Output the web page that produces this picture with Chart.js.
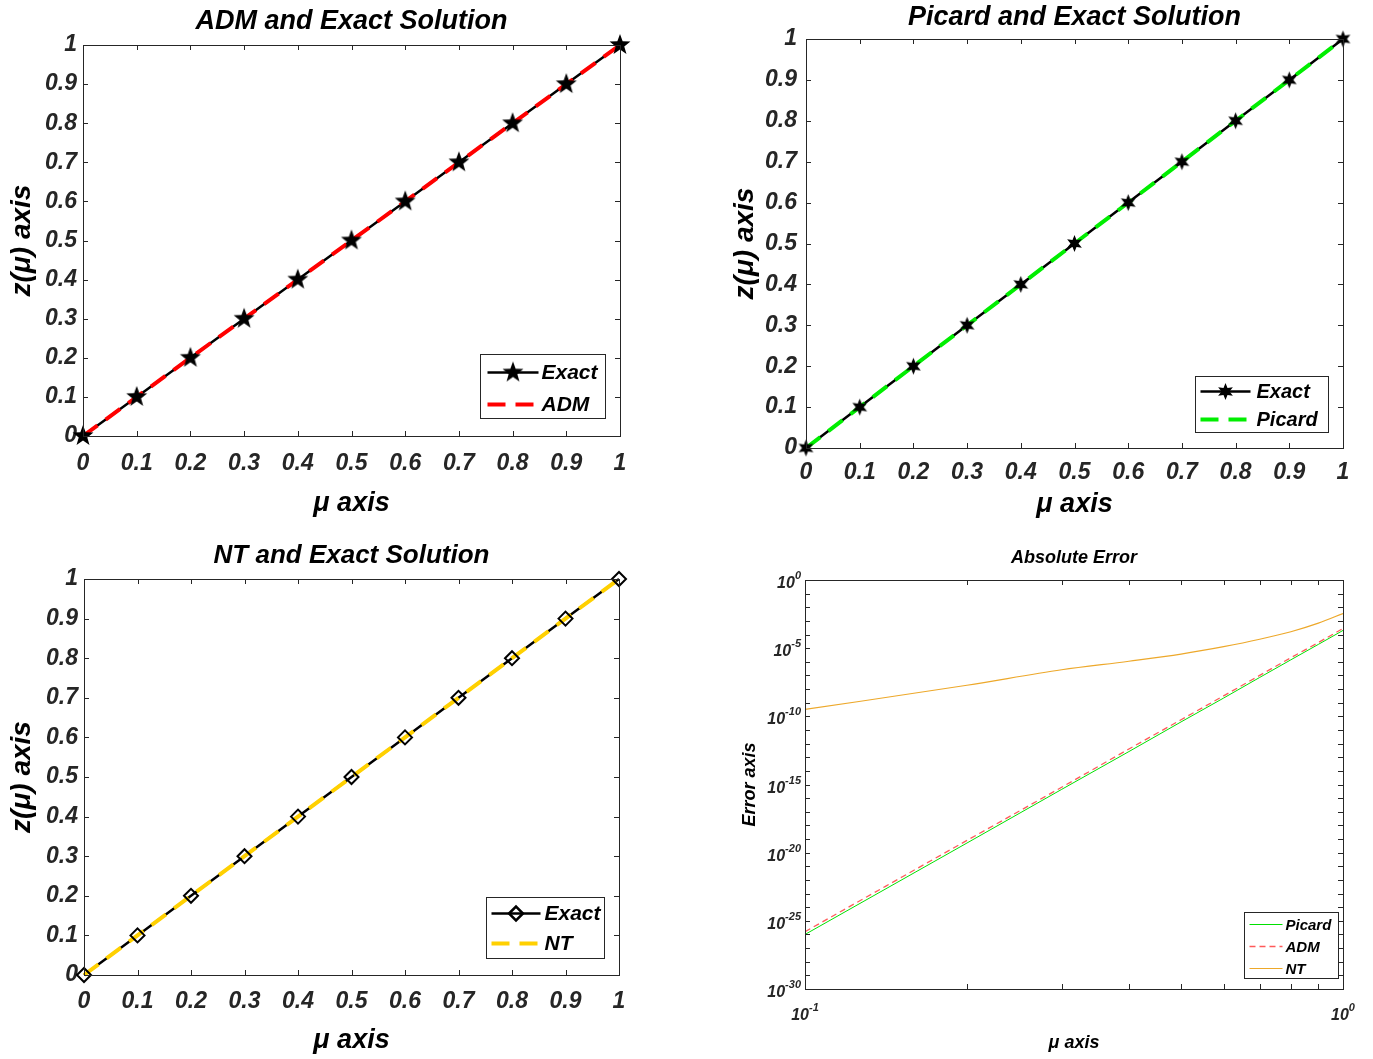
<!DOCTYPE html>
<html>
<head>
<meta charset="utf-8">
<script src="https://cdn.jsdelivr.net/npm/chart.js@4.4.1/dist/chart.umd.min.js"></script>
<style>
html, body { margin: 0; padding: 0; background: #fff; }
#wrap { position: relative; width: 1373px; height: 1059px; overflow: hidden; }
.panel { position: absolute; }
</style>
</head>
<body>
<div id="wrap">
  <div class="panel" style="left:0;top:0;width:686px;height:530px"><canvas id="admChart"></canvas></div>
  <div class="panel" style="left:700px;top:0;width:673px;height:530px"><canvas id="picardChart"></canvas></div>
  <div class="panel" style="left:0;top:532px;width:686px;height:527px"><canvas id="ntChart"></canvas></div>
  <div class="panel" style="left:700px;top:532px;width:673px;height:527px"><canvas id="errChart"></canvas></div>
</div>
<script>
// solution curves (mu from 0 to 1)
const muValues = [0, 0.1, 0.2, 0.3, 0.4, 0.5, 0.6, 0.7, 0.8, 0.9, 1];
const exactValues = [0, 0.1, 0.2, 0.3, 0.4, 0.5, 0.6, 0.7, 0.8, 0.9, 1];
const admValues = [0, 0.1, 0.2, 0.3, 0.4, 0.5, 0.6, 0.7, 0.8, 0.9, 1];
const picardValues = [0, 0.1, 0.2, 0.3, 0.4, 0.5, 0.6, 0.7, 0.8, 0.9, 1];
const ntValues = [0, 0.1, 0.2, 0.3, 0.4, 0.5, 0.6, 0.7, 0.8, 0.9, 1];
const linTicks = [0, 0.1, 0.2, 0.3, 0.4, 0.5, 0.6, 0.7, 0.8, 0.9, 1];
const linTickLabels = ['0', '0.1', '0.2', '0.3', '0.4', '0.5', '0.6', '0.7', '0.8', '0.9', '1'];

// absolute error (log-log)
const errMu = [0.1, 0.2, 0.3, 0.4, 0.5, 0.6, 0.7, 0.8, 0.9, 1.0];
const errPicard = [1.0e-26, 5.1e-20, 4.4e-16, 2.6e-13, 3.9e-11, 2.2e-9, 7.1e-8, 1.4e-6, 1.9e-5, 2.0e-4];
const errAdm = [1.6e-26, 7.9e-20, 6.3e-16, 4.0e-13, 5.6e-11, 3.2e-9, 1.0e-7, 2.0e-6, 2.6e-5, 2.8e-4];
const errNt = [3.2e-10, 1.9e-8, 2.6e-7, 1.1e-6, 3.7e-6, 1.3e-5, 4.5e-5, 1.6e-4, 6.8e-4, 3.5e-3];
const logXMajor = [0.1, 1];
const logXMajorExp = ['-1', '0'];
const logXMinor = [0.2, 0.3, 0.4, 0.5, 0.6, 0.7, 0.8, 0.9];
const logYMajor = [1, 1e-5, 1e-10, 1e-15, 1e-20, 1e-25, 1e-30];
const logYMajorExp = ['0', '-5', '-10', '-15', '-20', '-25', '-30'];
const logYMinor = [1e-1, 1e-2, 1e-3, 1e-4, 1e-6, 1e-7, 1e-8, 1e-9, 1e-11, 1e-12, 1e-13, 1e-14,
  1e-16, 1e-17, 1e-18, 1e-19, 1e-21, 1e-22, 1e-23, 1e-24, 1e-26, 1e-27, 1e-28, 1e-29];

const FAMILY = '"Liberation Sans", Arial, Helvetica, sans-serif';
const AXIS_COLOR = '#262626';
const fontStr = (size) => `italic bold ${size}px ${FAMILY}`;
const fontObj = (size) => ({ family: FAMILY, size: size, weight: 'bold', style: 'italic' });

const toPoints = (xs, ys) => xs.map((x, i) => ({ x: x, y: ys[i] }));

function makeStar(n, rOut, rIn) {
    const c = document.createElement('canvas');
    const s = Math.ceil(rOut * 2 + 4);
    c.width = s; c.height = s;
    const g = c.getContext('2d');
    g.translate(s / 2, s / 2);
    g.beginPath();
    for (let i = 0; i < 2 * n; i++) {
        const r = i % 2 ? rIn : rOut;
        const a = -Math.PI / 2 + i * Math.PI / n;
        g.lineTo(r * Math.cos(a), r * Math.sin(a));
    }
    g.closePath();
    g.fillStyle = '#000';
    g.fill();
    return c;
}

// MATLAB-like box, inner ticks, title, legend, log labels
const matlabFrame = {
    id: 'matlabFrame',
    afterDatasetsDraw(chart, args, o) {
        const { ctx, chartArea: a, scales } = chart;
        const line = (x1, y1, x2, y2) => { ctx.beginPath(); ctx.moveTo(x1, y1); ctx.lineTo(x2, y2); ctx.stroke(); };
        ctx.save();
        ctx.setLineDash([]);
        ctx.strokeStyle = AXIS_COLOR;
        ctx.lineWidth = 1;
        ctx.strokeRect(Math.round(a.left) + 0.5, Math.round(a.top) + 0.5, Math.round(a.width), Math.round(a.height));

        const L = o.tickLen;
        o.xTicks.forEach(v => {
            const p = Math.round(scales.x.getPixelForValue(v)) + 0.5;
            line(p, a.bottom, p, a.bottom - L);
            line(p, a.top, p, a.top + L);
        });
        o.yTicks.forEach(v => {
            const p = Math.round(scales.y.getPixelForValue(v)) + 0.5;
            line(a.left, p, a.left + L, p);
            line(a.right, p, a.right - L, p);
        });

        // title
        ctx.fillStyle = '#000';
        ctx.font = fontStr(o.titleSize);
        ctx.textAlign = 'center';
        ctx.textBaseline = 'middle';
        ctx.fillText(o.title, (a.left + a.right) / 2, o.titleY);

        // power-of-ten labels
        if (o.logLabels) {
            const base = fontStr(16), sup = fontStr(11);
            ctx.fillStyle = AXIS_COLOR;
            ctx.textBaseline = 'alphabetic';
            o.logLabels.y.forEach((v, i) => {
                const p = scales.y.getPixelForValue(v);
                ctx.font = sup; const we = ctx.measureText(o.logLabels.yExp[i]).width;
                ctx.font = base; const wb = ctx.measureText('10').width;
                const right = a.left - 4;
                ctx.textAlign = 'left';
                ctx.fillText('10', right - we - wb, p + 8);
                ctx.font = sup;
                ctx.fillText(o.logLabels.yExp[i], right - we, p - 1);
            });
            o.logLabels.x.forEach((v, i) => {
                const p = scales.x.getPixelForValue(v);
                ctx.font = sup; const we = ctx.measureText(o.logLabels.xExp[i]).width;
                ctx.font = base; const wb = ctx.measureText('10').width;
                const left = p - (wb + we) / 2;
                const y0 = a.bottom + 31;
                ctx.textAlign = 'left';
                ctx.fillText('10', left, y0);
                ctx.font = sup;
                ctx.fillText(o.logLabels.xExp[i], left + wb, y0 - 9);
            });
        }

        // legend box
        const lg = o.legend;
        const bx = Math.round(a.right - lg.mr - lg.w) + 0.5, by = Math.round(a.bottom - lg.mb - lg.h) + 0.5;
        ctx.fillStyle = '#fff';
        ctx.fillRect(bx, by, lg.w, lg.h);
        ctx.strokeStyle = AXIS_COLOR;
        ctx.lineWidth = 1;
        ctx.strokeRect(bx, by, lg.w, lg.h);
        chart.data.datasets.filter(d => d.legendLabel).forEach((d, i) => {
            const y = by + lg.row0 + i * lg.rowGap;
            ctx.strokeStyle = d.borderColor;
            ctx.lineWidth = d.borderWidth;
            ctx.setLineDash(d.borderDash || []);
            line(bx + lg.x0, y, bx + lg.x0 + lg.len, y);
            ctx.setLineDash([]);
            if (d.legendMarker) {
                ctx.fillStyle = 'rgba(0,0,0,0)';
                ctx.strokeStyle = '#000';
                Chart.helpers.drawPoint(ctx, {
                    pointStyle: d.legendMarker.style, radius: d.legendMarker.radius,
                    borderWidth: d.legendMarker.borderWidth || 0, rotation: 0
                }, bx + lg.x0 + lg.len / 2, y);
            }
            ctx.fillStyle = '#000';
            ctx.font = fontStr(lg.size);
            ctx.textAlign = 'left';
            ctx.textBaseline = 'middle';
            ctx.fillText(d.legendLabel, bx + lg.textX, y + 1);
        });
        ctx.restore();
    }
};

function solutionChart(id, cfg) {
    const marker = { style: cfg.markerStyle, radius: cfg.markerRadius, borderWidth: cfg.markerBorder };
    return new Chart(document.getElementById(id), {
        type: 'line',
        data: {
            datasets: [
                {
                    legendLabel: 'Exact', legendMarker: marker,
                    data: toPoints(muValues, exactValues),
                    borderColor: '#000', borderWidth: 2.5, pointRadius: 0, order: 3, clip: false
                },
                {
                    legendLabel: cfg.method,
                    data: toPoints(muValues, cfg.values),
                    borderColor: cfg.color, borderWidth: 4, borderDash: [18, 10],
                    pointRadius: 0, order: 2, clip: false
                },
                {
                    data: toPoints(muValues, exactValues),
                    showLine: false, pointStyle: cfg.markerStyle, pointRadius: cfg.markerRadius,
                    pointHoverRadius: cfg.markerRadius,
                    pointBackgroundColor: 'rgba(0,0,0,0)', pointBorderColor: '#000',
                    pointBorderWidth: cfg.markerBorder, order: 1, clip: false
                }
            ]
        },
        options: {
            responsive: true,
            maintainAspectRatio: false,
            animation: false,
            layout: { padding: { left: 0, right: cfg.padRight, top: cfg.padTop, bottom: 0 } },
            scales: {
                x: {
                    type: 'linear', min: 0, max: 1,
                    afterBuildTicks: s => { s.ticks = linTicks.map(v => ({ value: v })); },
                    afterFit: s => { s.height = cfg.xHeight; },
                    grid: { display: false, drawTicks: false },
                    border: { display: false },
                    ticks: { callback: (v, i) => linTickLabels[i], font: fontObj(23), color: AXIS_COLOR, padding: cfg.xTickPad, maxRotation: 0, autoSkip: false },
                    title: { display: true, text: 'μ axis', font: fontObj(27), color: '#000', padding: { top: 0, bottom: cfg.xTitlePad } }
                },
                y: {
                    type: 'linear', min: 0, max: 1,
                    afterBuildTicks: s => { s.ticks = linTicks.map(v => ({ value: v })); },
                    afterFit: s => { s.width = cfg.yWidth; },
                    grid: { display: false, drawTicks: false },
                    border: { display: false },
                    ticks: { callback: (v, i) => linTickLabels[i], font: fontObj(23), color: AXIS_COLOR, padding: cfg.yTickPad, autoSkip: false },
                    title: { display: true, text: 'z(μ) axis', font: fontObj(28), color: '#000', padding: { top: cfg.yTitlePad, bottom: 0 } }
                }
            },
            plugins: {
                legend: { display: false },
                tooltip: { enabled: false },
                matlabFrame: {
                    tickLen: 5, xTicks: linTicks, yTicks: linTicks,
                    title: cfg.title, titleSize: cfg.titleSize, titleY: cfg.titleY,
                    legend: cfg.legend
                }
            }
        },
        plugins: [matlabFrame]
    });
}

solutionChart('admChart', {
    method: 'ADM', values: admValues, color: '#ff0000',
    title: 'ADM and Exact Solution', titleY: 22, titleSize: 27,
    markerStyle: makeStar(5, 11, 4.5), markerRadius: 11, markerBorder: 0,
    padRight: 66, padTop: 45, xHeight: 94, yWidth: 83,
    xTickPad: 14, xTitlePad: 10, yTickPad: 6, yTitlePad: 5,
    legend: { w: 125, h: 64, mr: 15, mb: 18, row0: 18, rowGap: 32, x0: 7, len: 51, textX: 61, size: 21 }
});

solutionChart('picardChart', {
    method: 'Picard', values: picardValues, color: '#00ee00',
    title: 'Picard and Exact Solution', titleY: 18, titleSize: 27,
    markerStyle: makeStar(6, 8.5, 4), markerRadius: 8.5, markerBorder: 0,
    padRight: 30, padTop: 39, xHeight: 82, yWidth: 106,
    xTickPad: 11, xTitlePad: 9, yTickPad: 9, yTitlePad: 28,
    legend: { w: 133, h: 56, mr: 15, mb: 16, row0: 15, rowGap: 28, x0: 5, len: 50, textX: 61, size: 20 }
});

solutionChart('ntChart', {
    method: 'NT', values: ntValues, color: '#ffd000',
    title: 'NT and Exact Solution', titleY: 24, titleSize: 26,
    markerStyle: 'rectRot', markerRadius: 7, markerBorder: 2,
    padRight: 67, padTop: 47, xHeight: 84, yWidth: 84,
    xTickPad: 13, xTitlePad: 2, yTickPad: 6, yTitlePad: 5,
    legend: { w: 118, h: 61, mr: 15, mb: 17, row0: 16, rowGap: 30, x0: 5, len: 49, textX: 58, size: 21 }
});

new Chart(document.getElementById('errChart'), {
    type: 'line',
    data: {
        datasets: [
            { legendLabel: 'Picard', data: toPoints(errMu, errPicard), borderColor: '#00e000', borderWidth: 1, pointRadius: 0, cubicInterpolationMode: 'monotone', order: 1 },
            { legendLabel: 'ADM', data: toPoints(errMu, errAdm), borderColor: '#ff5a5a', borderWidth: 1.3, borderDash: [6, 4], pointRadius: 0, cubicInterpolationMode: 'monotone', order: 2 },
            { legendLabel: 'NT', data: toPoints(errMu, errNt), borderColor: '#eda82a', borderWidth: 1.2, pointRadius: 0, cubicInterpolationMode: 'monotone', order: 3 }
        ]
    },
    options: {
        responsive: true,
        maintainAspectRatio: false,
        animation: false,
        layout: { padding: { left: 0, right: 30, top: 48, bottom: 0 } },
        scales: {
            x: {
                type: 'logarithmic', min: 0.1, max: 1,
                afterFit: s => { s.height = 70; },
                grid: { display: false, drawTicks: false },
                border: { display: false },
                ticks: { display: false },
                title: { display: true, text: 'μ axis', font: fontObj(18), color: '#000', padding: { top: 0, bottom: 5 } }
            },
            y: {
                type: 'logarithmic', min: 1e-30, max: 1,
                afterFit: s => { s.width = 105; },
                grid: { display: false, drawTicks: false },
                border: { display: false },
                ticks: { display: false },
                title: { display: true, text: 'Error axis', font: fontObj(18), color: '#000', padding: { top: 39, bottom: 0 } }
            }
        },
        plugins: {
            legend: { display: false },
            tooltip: { enabled: false },
            matlabFrame: {
                tickLen: 5,
                xTicks: logXMajor.concat(logXMinor),
                yTicks: logYMajor.concat(logYMinor),
                title: 'Absolute Error', titleSize: 18, titleY: 26,
                logLabels: { x: logXMajor, xExp: logXMajorExp, y: logYMajor, yExp: logYMajorExp },
                legend: { w: 94, h: 66, mr: 5, mb: 11, row0: 12, rowGap: 22, x0: 5, len: 33, textX: 41, size: 15 }
            }
        }
    },
    plugins: [matlabFrame]
});
</script>
</body>
</html>
